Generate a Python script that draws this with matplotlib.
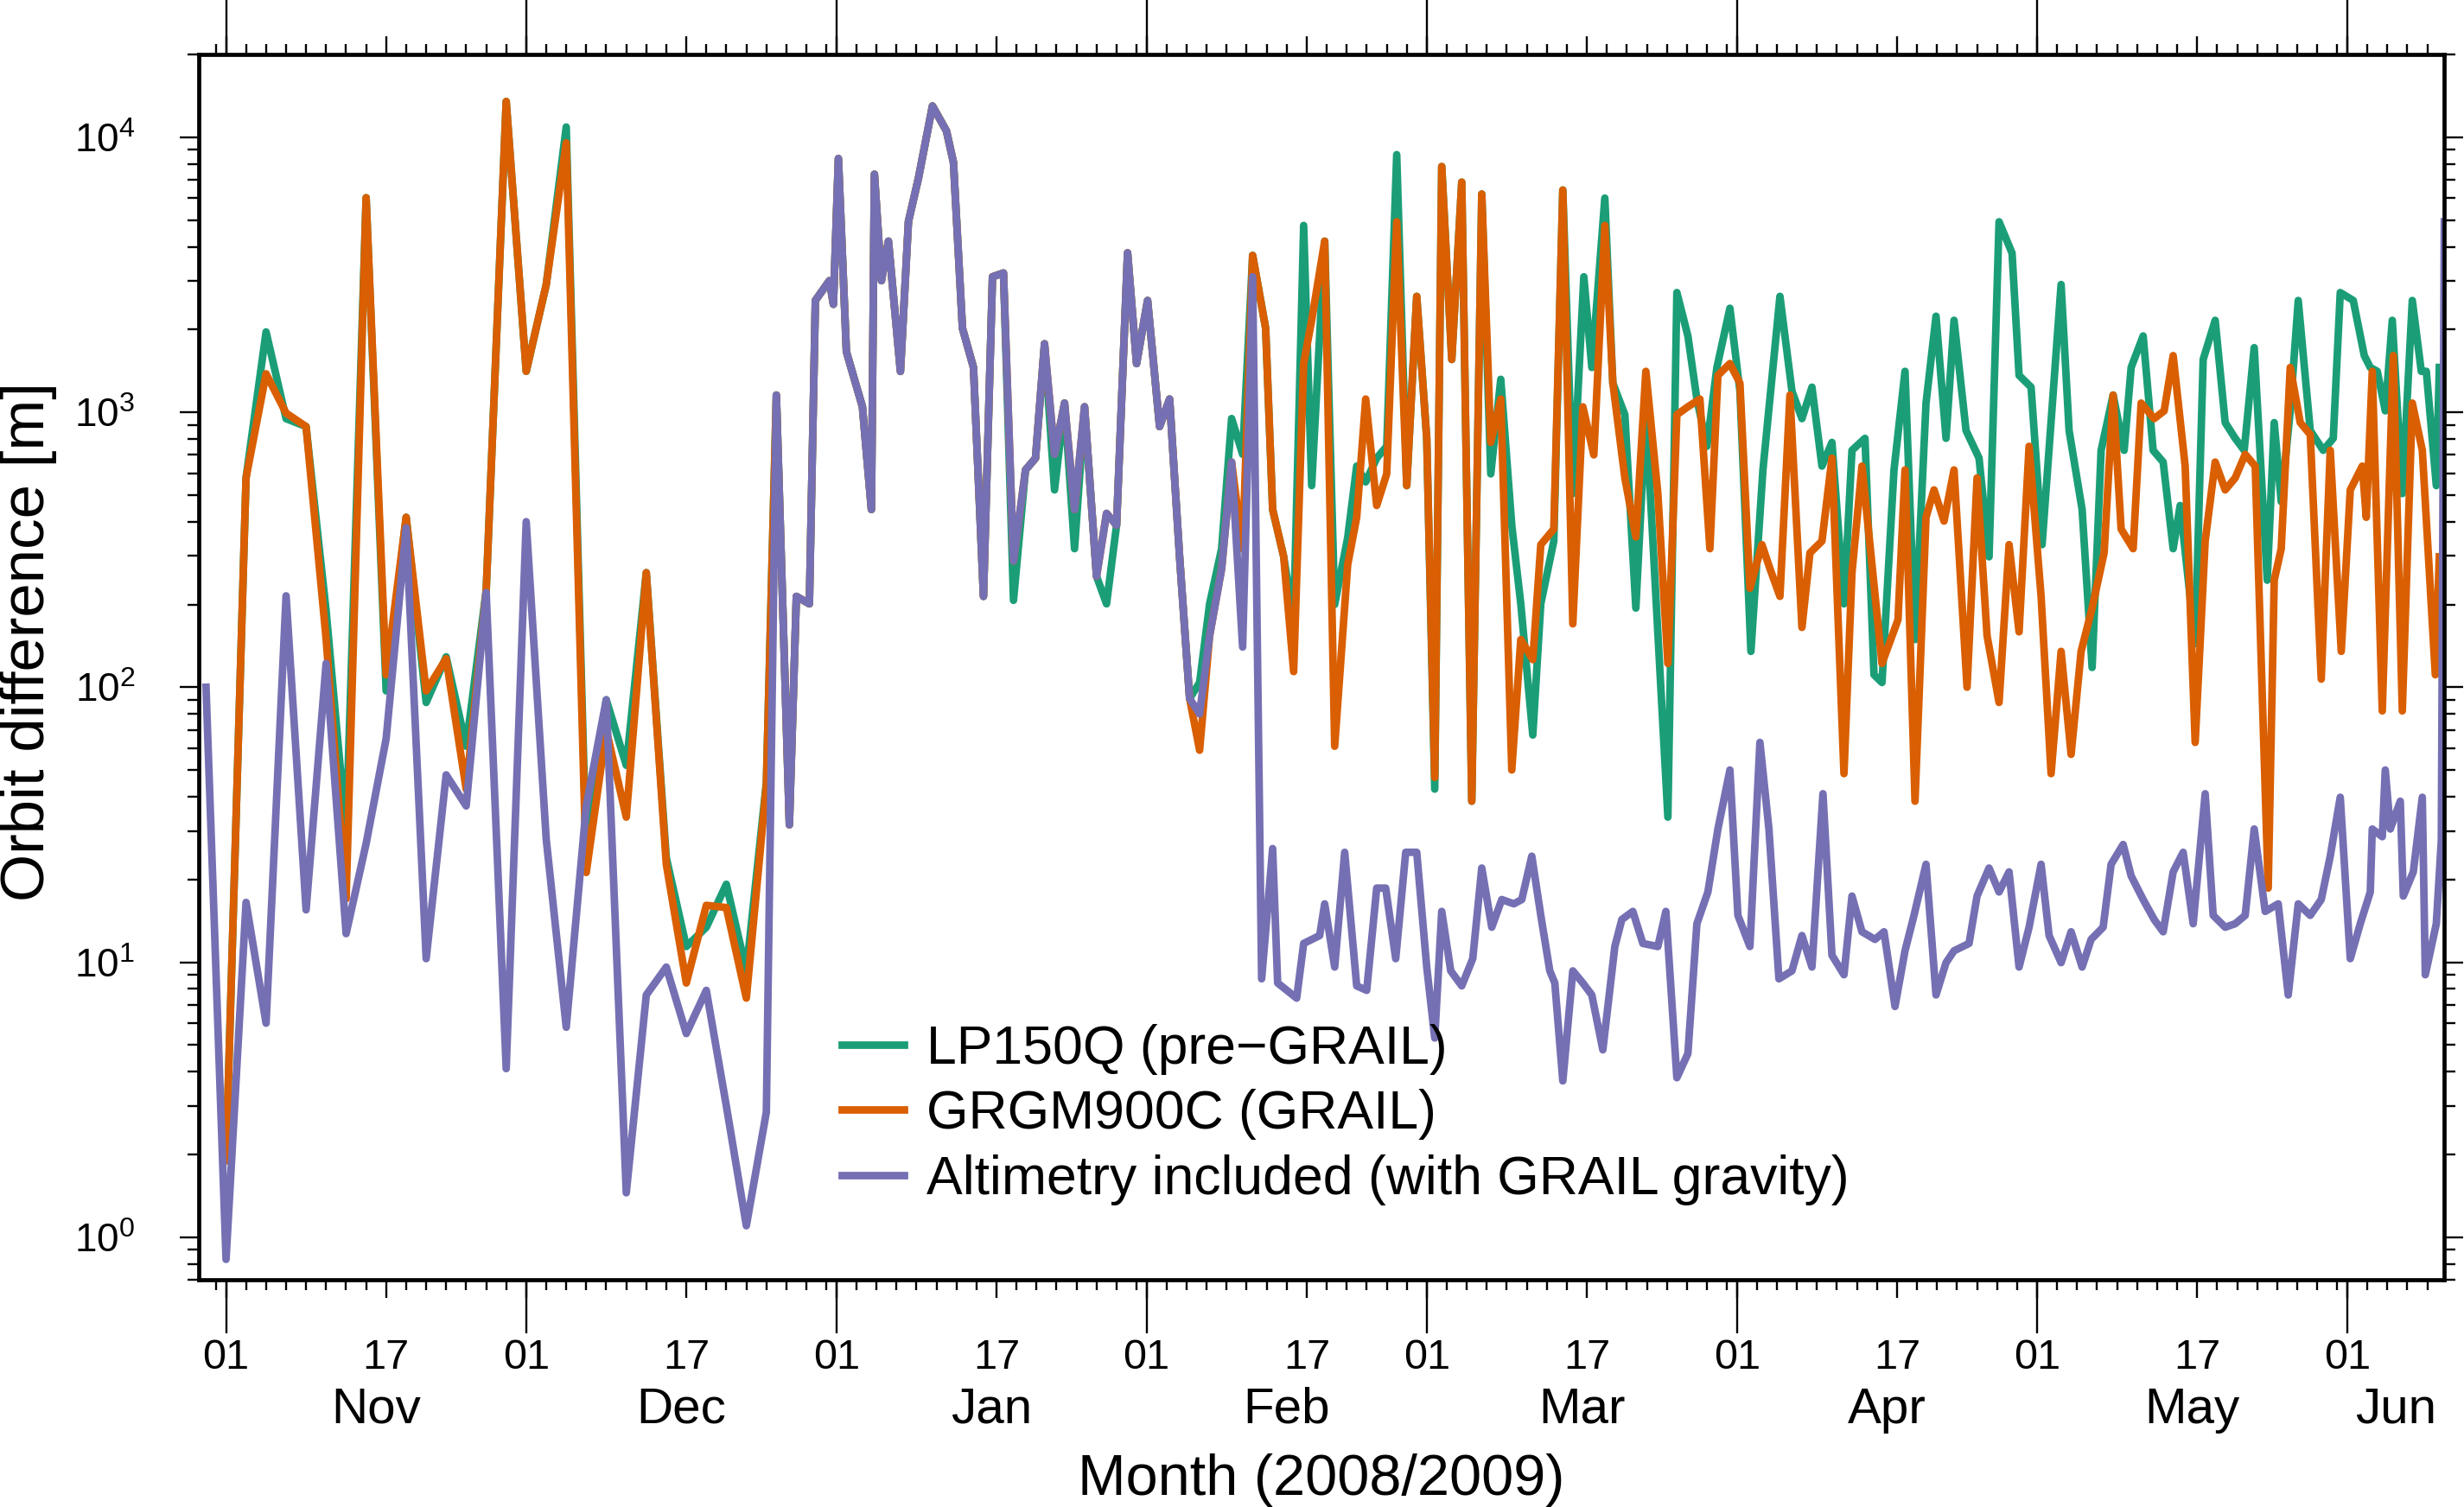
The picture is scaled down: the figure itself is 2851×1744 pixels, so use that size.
import numpy as np
import matplotlib
matplotlib.use("Agg")
import matplotlib.pyplot as plt
import matplotlib.dates as mdates
from matplotlib.ticker import FixedLocator, FixedFormatter, LogLocator, NullFormatter

plt.rcParams['font.family'] = ['Liberation Sans', 'DejaVu Sans']
plt.rcParams['mathtext.fontset'] = 'custom'
plt.rcParams['mathtext.rm'] = 'Liberation Sans'
plt.rcParams['mathtext.default'] = 'regular'

# days counted from 2008-11-01
day0 = np.datetime64('2008-11-01')

# every second day until Christmas
days_early = [0, 2, 4, 6, 8, 10, 12, 14, 16, 18, 20, 22, 24, 26, 28, 30, 32, 34, 36, 38,
              40, 42, 44, 46, 48, 50, 52, 54]
alt_early = [0.83, 16.5, 6.0, 215, 15.5, 122, 12.7, 27, 65, 380, 10.3, 48, 37, 221, 4.1, 400,
             28, 5.8, 37, 90, 1.45, 7.6, 9.6, 5.5, 7.9, 3.0, 1.1, 2.85]
grgm_early = [1.9, 578, 1380, 993, 887, 150, 17, 6030, 111, 415, 97, 127, 42.6, 225, 13500, 1409,
              2912, 9550, 21.2, 70, 33.7, 261, 22.7, 8.4, 16.1, 15.8, 7.4, 44]
lp_early = [1.9, 578, 1960, 948, 887, 190, 29.6, 6030, 97, 415, 88, 129, 61, 225, 13500, 1409,
            2912, 10900, 25, 90, 52, 261, 24, 11.4, 13.4, 19.2, 9.3, 45]

# late Dec - early Feb, where the three solutions nearly coincide
days_jan = [55.0, 56.3, 57.0, 58.3, 58.9, 60.3, 60.7, 61.2, 62.0, 63.6, 64.5, 64.8, 65.5, 66.2,
            67.4, 68.2, 69.2, 70.6, 72.0, 72.7, 73.6, 74.7, 75.7, 76.6, 77.7, 78.7, 79.9, 80.9,
            81.8, 82.8, 83.8, 84.8, 85.8, 87.0, 88.0, 89.0, 90.1, 91.0, 92.1, 93.3, 94.3, 95.3]
alt_jan = [1155, 31.6, 214, 201, 2550, 3010, 2470, 8370, 1660, 1047, 443, 7340, 3010, 4190,
           1408, 4940, 7100, 13000, 10550, 8100, 2020, 1455, 214, 3110, 3210, 288, 617, 681,
           1774, 703, 1080, 443, 1047, 253, 429, 388, 3800, 1503, 2550, 887, 1117, 298]
lp_jan = [1155, 31.6, 214, 201, 2550, 3010, 2470, 8370, 1660, 1047, 443, 7340, 3010, 4190,
          1408, 4940, 7100, 13000, 10550, 8100, 2020, 1455, 214, 3110, 3210, 207, 617, 681,
          1774, 522, 1080, 319, 1047, 253, 201, 388, 3800, 1503, 2550, 887, 1117, 298]

# altimetry included, Feb - Jun
days_alt_late = [96.3, 97.3, 98.3, 99.5, 100.5, 101.6, 102.6, 103.5, 104.6, 105.1, 107.0, 107.7,
                 109.3, 109.8, 110.8, 111.8, 113.0, 114.0, 115.0, 115.9, 116.9, 117.9, 119.0,
                 120.0, 120.8, 121.5, 122.4, 123.5, 124.6, 125.5, 126.5, 127.5, 128.7, 129.5,
                 130.5, 131.4, 132.3, 132.8, 133.6, 134.6, 135.6, 136.5, 137.6, 138.8, 139.5,
                 140.6, 141.6, 143.1, 143.9, 145.0, 146.1, 147.0, 148.1, 149.1, 150.3, 151.1,
                 152.3, 153.3, 154.2, 155.2, 156.5, 157.5, 158.5, 159.6, 160.5, 161.7, 162.5,
                 163.5, 164.8, 165.7, 166.8, 167.8, 168.7, 169.9, 170.9, 171.9, 172.7, 174.2,
                 175.0, 176.2, 177.2, 178.2, 179.2, 180.2, 181.4, 182.2, 183.4, 184.4, 185.5,
                 186.4, 187.6, 188.4, 189.6, 190.4, 191.6, 192.7, 193.6, 194.6, 195.6, 196.6,
                 197.8, 198.6, 199.8, 200.8, 201.8, 202.7, 203.8, 205.1, 206.1, 207.1, 208.3,
                 209.4, 210.3, 211.3, 212.3, 213.3, 214.3, 214.5, 215.5, 215.8, 216.3, 217.3,
                 217.6, 218.6, 219.5, 219.8, 220.9, 221.4, 221.7]
alt_late = [91, 80, 154, 270, 659, 140, 3110, 8.7, 25.9, 8.4, 7.4, 11.7,
            12.5, 16.3, 9.6, 25.1, 8.2, 7.9, 18.6, 18.6, 10.3, 25.1, 25.1,
            9.6, 5.3, 15.3, 9.3, 8.2, 10.3, 22, 13.4, 16.9, 16.3, 16.9,
            24.3, 14.8, 9.3, 8.4, 3.7, 9.3, 8.4, 7.6, 4.8, 11.4, 14.3,
            15.3, 11.7, 11.4, 15.3, 3.8, 4.65, 13.8, 18.0, 30.5, 50, 14.8,
            11.4, 63, 30.5, 8.7, 9.3, 12.5, 9.6, 41, 10.6, 9.0, 17.4,
            12.9, 12.1, 12.9, 6.9, 11.0, 14.8, 22.7, 7.6, 9.96, 11.0, 11.7,
            17.4, 22.0, 18.0, 21.3, 9.6, 13.4, 22.7, 12.5, 9.96, 12.9, 9.6,
            12.1, 13.4, 22.7, 26.8, 20.6, 16.9, 14.3, 12.9, 21.3, 25.1, 13.8,
            41, 14.8, 13.4, 13.8, 14.8, 30.5, 15.3, 16.3, 7.6, 16.3, 14.8,
            16.9, 24.3, 39.8, 10.3, 13.8, 18.0, 30.5, 28.6, 50, 30.5, 38.5,
            17.4, 21.3, 39.8, 9.0, 13.8, 27.7, 4930]

# GRGM900C, Feb - Jun
days_grgm_late = [96.3, 97.3, 98.3, 99.5, 100.5, 101.6, 102.6, 103.9, 104.6, 105.7, 106.7, 107.7,
                  108.5, 109.8, 110.8, 112.1, 113.0, 113.9, 115.0, 116.0, 117.0, 118.0, 119.0,
                  120.0, 120.8, 121.5, 122.5, 123.5, 124.5, 125.5, 126.4, 127.4, 128.5, 129.4,
                  130.6, 131.4, 132.7, 133.6, 134.6, 135.6, 136.7, 137.8, 138.6, 139.8, 140.9,
                  141.9, 143.1, 144.1, 145.0, 146.1, 147.3, 148.3, 149.1, 150.3, 151.3, 152.3,
                  153.5, 154.3, 155.3, 156.3, 157.5, 158.3, 159.5, 160.5, 161.7, 162.5, 163.5,
                  165.5, 167.1, 167.8, 168.8, 169.9, 170.7, 171.7, 172.7, 174.0, 175.0, 176.0,
                  177.2, 178.2, 179.2, 180.2, 181.4, 182.4, 183.4, 184.4, 185.4, 186.5, 187.7,
                  188.6, 189.4, 190.6, 191.4, 192.7, 193.7, 194.6, 195.8, 196.8, 197.8, 198.8,
                  199.8, 200.8, 201.8, 202.8, 204.1, 204.7, 205.4, 206.3, 207.3, 208.3, 209.4,
                  210.3, 211.4, 212.3, 213.5, 213.9, 214.5, 215.5, 216.6, 217.5, 218.5, 219.5,
                  220.8, 221.2]
grgm_late = [91, 59, 154, 270, 659, 318, 3720, 2020, 443, 299, 114, 1503,
             2160, 4190, 61, 279, 415, 1117, 458, 597, 4930, 541, 2640,
             804, 47, 7830, 1556, 6870, 38.5, 6220, 777, 1117, 50, 149,
             126, 330, 376, 6430, 170, 1047, 700, 4780, 1276, 577, 352,
             1409, 506, 122, 980, 1047, 1117, 319, 1362, 1504, 1276, 229,
             330, 270, 214, 1155, 165, 308, 340, 681, 48.5, 261, 637,
             122, 176, 617, 38.5, 415, 522, 402, 617, 100, 577, 154,
             88, 330, 159, 752, 214, 48.5, 135, 57, 135, 194, 308,
             1155, 376, 319, 1080, 948, 1012, 1607, 637, 63, 340, 659,
             522, 577, 703, 637, 18.6, 245, 319, 1455, 917, 830, 107,
             727, 135, 522, 637, 415, 1409, 82, 1607, 82, 1080, 727,
             111, 298]

# LP150Q, Feb - Jun
days_lp_late = [96.3, 97.3, 98.3, 99.5, 100.5, 101.6, 102.6, 103.9, 104.6, 105.7, 106.7, 107.7,
                108.5, 109.8, 110.8, 112.1, 113.0, 113.9, 115.0, 116.0, 117.0, 118.0, 119.0,
                120.0, 120.8, 121.5, 122.5, 123.5, 124.5, 125.5, 126.4, 127.4, 128.5, 129.4,
                130.6, 131.4, 132.7, 133.6, 134.6, 135.7, 136.5, 137.8, 138.6, 139.8, 140.9,
                141.9, 144.1, 145.0, 146.1, 147.0, 148.0, 149.0, 150.3, 151.3, 152.4, 153.6,
                155.3, 156.5, 157.5, 158.5, 159.5, 160.5, 161.7, 162.5, 163.8, 164.7, 165.5,
                166.7, 167.8, 168.8, 169.9, 170.9, 171.9, 172.7, 173.9, 175.2, 176.2, 177.2,
                178.5, 179.2, 180.4, 181.5, 183.4, 184.2, 185.5, 186.5, 187.4, 188.6, 189.7,
                190.4, 191.6, 192.6, 193.6, 194.6, 195.3, 196.8, 197.6, 198.8, 199.8, 200.8,
                201.7, 202.7, 204.0, 204.7, 205.4, 206.3, 207.1, 208.3, 209.6, 210.6, 211.3,
                212.6, 213.7, 214.3, 215.0, 215.8, 216.5, 217.5, 218.5, 219.4, 219.9, 220.9,
                221.2]
lp_late = [91, 104, 201, 319, 949, 703, 3720, 2020, 443, 299, 176, 4780,
           541, 4190, 200, 350, 637, 558, 681, 752, 8650, 541, 2640,
           804, 42.6, 7830, 1556, 6870, 38.5, 6220, 597, 1318, 388, 201,
           67, 201, 340, 6430, 506, 3110, 1455, 6010, 1276, 980, 194,
           1000, 33.7, 2725, 1895, 1117, 752, 1455, 2390, 1194, 135, 617,
           2640, 1194, 948, 1234, 637, 777, 201, 727, 804, 111, 104,
           617, 1409, 149, 1080, 2235, 804, 2160, 858, 681, 298, 4930,
           3790, 1362, 1234, 330, 2915, 858, 443, 118, 727, 1155, 727,
           1455, 1895, 727, 659, 319, 458, 144, 1556, 2160, 917, 804,
           727, 1718, 245, 917, 473, 1012, 2550, 858, 727, 804, 2725,
           2550, 1607, 1455, 1409, 1012, 2160, 506, 2550, 1409, 1409, 541,
           1455]

days_alt = [-2] + days_early + days_jan + days_alt_late
alt = [100] + alt_early + alt_jan + alt_late
days_grgm = days_early + days_jan + days_grgm_late
grgm = grgm_early + alt_jan + grgm_late
days_lp = days_early + days_jan + days_lp_late
lp = lp_early + lp_jan + lp_late

labels = ['LP150Q (pre\u2212GRAIL)', 'GRGM900C (GRAIL)', 'Altimetry included (with GRAIL gravity)']
colors = ['#1b9e77', '#d95f02', '#7570b3']
month_names = ['Nov', 'Dec', 'Jan', 'Feb', 'Mar', 'Apr', 'May', 'Jun']

t0 = mdates.date2num(day0)
xmin, xmax = t0 - 2.76, t0 + 221.68

fig = plt.figure(figsize=(28.51, 17.44), dpi=100)
ax = fig.add_axes([0.08053, 0.15080, 0.91140, 0.81302])

lw = 6.3
ax.plot(t0 + np.array(days_lp), lp, color=colors[0], lw=lw, label=labels[0])
ax.plot(t0 + np.array(days_grgm), grgm, color=colors[1], lw=lw, label=labels[1])
ax.plot(t0 + np.array(days_alt), alt, color=colors[2], lw=lw, label=labels[2])

ax.set_xlim(xmin, xmax)
ax.set_yscale('log')
ax.set_ylim(0.7, 2e4)

for s in ax.spines.values():
    s.set_linewidth(3.4)

# day ticks: 01/17 annotated, odd days small
ax.xaxis.set_major_locator(mdates.DayLocator(bymonthday=[1, 17]))
ax.xaxis.set_major_formatter(mdates.DateFormatter('%d'))
ax.xaxis.set_minor_locator(mdates.DayLocator(bymonthday=[3, 5, 7, 9, 11, 13, 15, 19, 21, 23, 25, 27, 29, 31]))
ax.tick_params(axis='x', which='major', length=15.1, width=1.7, top=True, labelsize=35, pad=34)
ax.tick_params(axis='x', which='minor', length=8.6, width=1.7, top=True)

# y axis
ax.yaxis.set_major_locator(LogLocator(base=10, numticks=12))
ax.yaxis.set_minor_locator(LogLocator(base=10, subs=np.arange(2, 10), numticks=100))
ax.yaxis.set_minor_formatter(NullFormatter())
ax.tick_params(axis='y', which='major', length=15.8, width=1.7, right=True, labelsize=33, pad=37)
ax.tick_params(axis='y', which='minor', length=9.4, width=1.7, right=True)

# month boundaries and month names
months = np.arange(np.datetime64('2008-10'), np.datetime64('2009-08'), dtype='datetime64[M]')
mstart = mdates.date2num(months.astype('datetime64[D]'))
mids = []
for i in range(1, len(mstart) - 1):
    lo, hi = max(mstart[i], xmin), min(mstart[i + 1], xmax)
    mids.append((lo + hi) / 2)

sb = ax.secondary_xaxis('bottom')
sb.xaxis.set_major_locator(FixedLocator(mstart))
sb.xaxis.set_major_formatter(NullFormatter())
sb.xaxis.set_minor_locator(FixedLocator(mids))
sb.xaxis.set_minor_formatter(FixedFormatter(month_names))
sb.tick_params(which='major', length=44.6, width=1.7)
sb.tick_params(which='minor', length=0, pad=89, labelsize=42)

st = ax.secondary_xaxis('top')
st.xaxis.set_major_locator(FixedLocator(mstart))
st.xaxis.set_major_formatter(NullFormatter())
st.xaxis.set_minor_locator(FixedLocator([]))
st.tick_params(which='major', length=50, width=1.7)
for s in list(sb.spines.values()) + list(st.spines.values()):
    s.set_visible(False)

fig.text(1529 / 2851, 1 - 1730 / 1744, 'Month (2008/2009)', ha='center', va='baseline', fontsize=48)
fig.text(0.0116, 0.574, 'Orbit difference [m]', rotation=90, ha='center', va='center', fontsize=51)

ax.legend(loc='upper left', bbox_to_anchor=(0.2865, 0.2087), frameon=False, fontsize=45,
          handlelength=1.15, handletextpad=0.42, labelspacing=0.26, borderpad=0, borderaxespad=0)

fig.savefig('out.png', dpi=100)
